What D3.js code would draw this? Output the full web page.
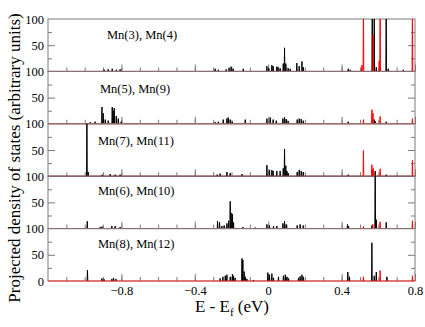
<!DOCTYPE html>
<html>
<head>
<meta charset="utf-8">
<script src="https://cdn.jsdelivr.net/npm/d3@7"></script>
<style>
  body { margin: 0; background: #fff; }
  text { font-family: "Liberation Serif", "Times New Roman", serif; fill: #000; }
</style>
</head>
<body>
<div id="chart"></div>
<script>
// panel titles, top to bottom
var panelNames = ['Mn(3), Mn(4)', 'Mn(5), Mn(9)', 'Mn(7), Mn(11)', 'Mn(6), Mn(10)', 'Mn(8), Mn(12)'];

// peaks as [energy (eV), height], black = one atom, red = the other
var mn34Black = [[-0.894,3],[-0.872,4],[-0.850,5],[-0.828,3],[-0.807,4],
  [-0.289,5],[-0.272,3],[-0.229,4],[-0.213,7],[-0.202,9],[-0.191,5],[-0.136,5],
  [-0.007,10],[0.003,6],[0.020,12],[0.027,10],[0.047,9],[0.054,8],[0.065,6],[0.082,15],[0.089,45],[0.096,15],
  [0.109,6],[0.120,5],[0.156,16],[0.169,10],[0.184,19],[0.191,8],[0.436,5],[0.447,3],
  [0.567,150],[0.578,150],[0.589,8],[0.643,150],[0.654,5],[0.736,3]];
var mn34Red = [[0.511,12],[0.519,150],[0.572,70],[0.605,20],[0.610,150],[0.786,150]];

var mn59Black = [[-0.970,3],[-0.943,4],[-0.906,32],[-0.899,20],[-0.888,8],[-0.872,6],[-0.850,32],[-0.845,25],
  [-0.839,30],[-0.828,15],[-0.817,10],[-0.801,4],
  [-0.289,3],[-0.272,4],[-0.245,8],[-0.225,10],[-0.218,12],[-0.207,8],[-0.196,4],[-0.125,8],
  [-0.007,10],[0.011,12],[0.027,8],[0.044,6],[0.080,10],[0.089,13],[0.098,9],[0.109,5],
  [0.158,8],[0.169,10],[0.180,9],[0.191,6],[0.436,4],[0.578,8],[0.583,5],[0.643,4]];
var mn59Red = [[0.519,8],[0.565,27],[0.571,20],[0.610,14],[0.786,10]];

var mn711Black = [[-0.988,150],[-0.981,8],[-0.905,3],[-0.861,4],[-0.834,3],[-0.807,3],
  [-0.278,3],[-0.262,5],[-0.225,8],[-0.207,6],[-0.143,4],
  [-0.007,21],[0.007,12],[0.020,12],[0.027,10],[0.047,10],[0.065,10],[0.082,15],[0.089,52],[0.096,20],
  [0.102,10],[0.109,6],[0.158,8],[0.169,12],[0.180,10],[0.191,8],[0.436,3],
  [0.565,12],[0.583,10],[0.643,3]];
var mn711Red = [[0.519,49],[0.565,22],[0.572,15],[0.610,14],[0.786,30]];

var mn610Black = [[-0.986,14],[-0.916,3],[-0.906,4],[-0.852,5],[-0.834,5],[-0.807,3],
  [-0.276,14],[-0.265,12],[-0.252,5],[-0.240,6],[-0.225,10],[-0.216,15],[-0.207,52],[-0.202,30],
  [-0.195,28],[-0.189,12],[-0.138,3],[-0.071,2],
  [-0.007,8],[0.007,6],[0.029,5],[0.047,5],[0.080,10],[0.089,14],[0.098,8],[0.158,6],[0.174,8],[0.191,6],
  [0.432,8],[0.438,5],[0.565,6],[0.583,150],[0.589,17],[0.643,12]];
var mn610Red = [[0.519,4],[0.570,8],[0.610,13],[0.786,15]];

var mn812Black = [[-0.985,21],[-0.906,5],[-0.894,3],[-0.852,4],[-0.843,6],[-0.830,4],
  [-0.262,5],[-0.247,8],[-0.234,10],[-0.225,12],[-0.207,8],[-0.195,13],[-0.189,10],[-0.180,6],
  [-0.143,43],[-0.138,40],[-0.131,18],[-0.125,8],[-0.116,4],[-0.080,2],
  [-0.002,16],[0.007,12],[0.020,14],[0.029,6],[0.056,8],[0.083,10],[0.093,12],[0.102,8],[0.111,5],
  [0.165,6],[0.174,9],[0.184,12],[0.192,8],[0.434,17],[0.443,8],
  [0.565,73],[0.578,10],[0.589,17],[0.647,8]];
var mn812Red = [[0.519,8],[0.610,20],[0.786,10]];

var blackSeries = [mn34Black, mn59Black, mn711Black, mn610Black, mn812Black];
var redSeries = [mn34Red, mn59Red, mn711Red, mn610Red, mn812Red];

var xTicks = [-0.8, -0.4, 0, 0.4, 0.8];
var yTicks = [0, 50, 100];

// layout
var svgWidth = 425, svgHeight = 327;
var left = 48, right = 415, top0 = 19, panelH = 52.4;
var labelPos = [[107, 39], [100, 93], [98, 145], [98, 195], [98, 248]];
var baseColor = ['#ff3030', '#ff3030', '#b00000', '#ff3030', '#ff3030'];
var frameColor = '#7a7a7a';

var svg = d3.select('#chart').append('svg')
  .attr('width', svgWidth)
  .attr('height', svgHeight);

var x = d3.scaleLinear().domain([-1.2, 0.8]).range([left, right]);
var minorX = d3.range(-11, 8).map(d => d / 10);

// each peak becomes a thin spike standing on the baseline
var spikes = (peaks, y) => {
  var w = 0.0018;
  return peaks.map(p =>
    `M${x(p[0] - w)},${y(0)}L${x(p[0])},${y(p[1])}L${x(p[0] + w)},${y(0)}`).join('');
};

panelNames.forEach((name, i) => {
  var top = top0 + i * panelH,
      bottom = top + panelH;
  var y = d3.scaleLinear().domain([0, 100]).range([bottom, top]);
  var g = svg.append('g');

  var clipId = 'clip' + i;
  svg.append('clipPath').attr('id', clipId)
    .append('rect')
    .attr('x', left).attr('y', top)
    .attr('width', right - left).attr('height', panelH + 1);

  // frame
  g.append('rect')
    .attr('x', left).attr('y', top)
    .attr('width', right - left).attr('height', panelH)
    .attr('fill', 'none')
    .attr('stroke', frameColor);

  // x ticks pointing up from the baseline
  g.append('g')
    .attr('transform', `translate(0,${bottom})`)
    .call(d3.axisTop(x).tickValues(minorX).tickSize(4).tickFormat(''))
    .call(a => a.select('.domain').remove())
    .call(a => a.selectAll('line').attr('stroke', frameColor));
  g.append('g')
    .attr('transform', `translate(0,${bottom})`)
    .call(d3.axisTop(x).tickValues(xTicks).tickSize(7).tickFormat(''))
    .call(a => a.select('.domain').remove())
    .call(a => a.selectAll('line').attr('stroke', frameColor));

  // y ticks, inward on both sides
  [[d3.axisRight, left], [d3.axisLeft, right]].forEach(s => {
    g.append('g')
      .attr('transform', `translate(${s[1]},0)`)
      .call(s[0](y).tickValues([25, 75]).tickSize(4).tickFormat(''))
      .call(a => a.select('.domain').remove())
      .call(a => a.selectAll('line').attr('stroke', frameColor));
    g.append('g')
      .attr('transform', `translate(${s[1]},0)`)
      .call(s[0](y).tickValues([50]).tickSize(7).tickFormat(''))
      .call(a => a.select('.domain').remove())
      .call(a => a.selectAll('line').attr('stroke', frameColor));
  });

  // y tick labels
  var lab = i === panelNames.length - 1 ? yTicks : yTicks.slice(1);
  g.append('g')
    .attr('transform', `translate(${left},0)`)
    .call(d3.axisLeft(y).tickValues(lab).tickSize(0).tickPadding(4))
    .call(a => a.select('.domain').remove())
    .call(a => a.selectAll('text')
      .style('font-family', '"Liberation Serif", "Times New Roman", serif')
      .style('font-size', '12.5px'));

  var traces = g.append('g').attr('clip-path', `url(#${clipId})`);
  traces.append('path')
    .attr('d', spikes(blackSeries[i], y))
    .attr('fill', 'none')
    .attr('stroke', '#000')
    .attr('stroke-width', 1);
  traces.append('line')
    .attr('x1', left).attr('x2', right)
    .attr('y1', y(0)).attr('y2', y(0))
    .attr('stroke', baseColor[i]);
  traces.append('path')
    .attr('d', spikes(redSeries[i], y))
    .attr('fill', 'none')
    .attr('stroke', '#ff0000')
    .attr('stroke-width', 1);

  g.append('text')
    .attr('x', labelPos[i][0])
    .attr('y', labelPos[i][1])
    .style('font-size', '12.5px')
    .text(name);
});

// bottom tick labels
var bottomY = top0 + panelNames.length * panelH;
svg.append('g')
  .attr('transform', `translate(0,${bottomY})`)
  .call(d3.axisBottom(x).tickValues(xTicks).tickSize(0).tickPadding(5)
    .tickFormat(d => d === 0 ? '0' : d3.format('.1f')(d)))
  .call(a => a.select('.domain').remove())
  .call(a => a.selectAll('text')
    .style('font-family', '"Liberation Serif", "Times New Roman", serif')
    .style('font-size', '12.5px'));

// axis titles
var xTitle = svg.append('text')
  .attr('x', 232)
  .attr('y', 312)
  .attr('text-anchor', 'middle')
  .style('font-size', '17px');
xTitle.append('tspan').text('E - E');
xTitle.append('tspan').attr('dy', 4).style('font-size', '11px').text('f');
xTitle.append('tspan').attr('dy', -4).text(' (eV)');

svg.append('text')
  .attr('transform', 'translate(20,158)rotate(-90)')
  .attr('text-anchor', 'middle')
  .style('font-size', '17px')
  .text('Projected density of states (arbitrary units)');
</script>
</body>
</html>
